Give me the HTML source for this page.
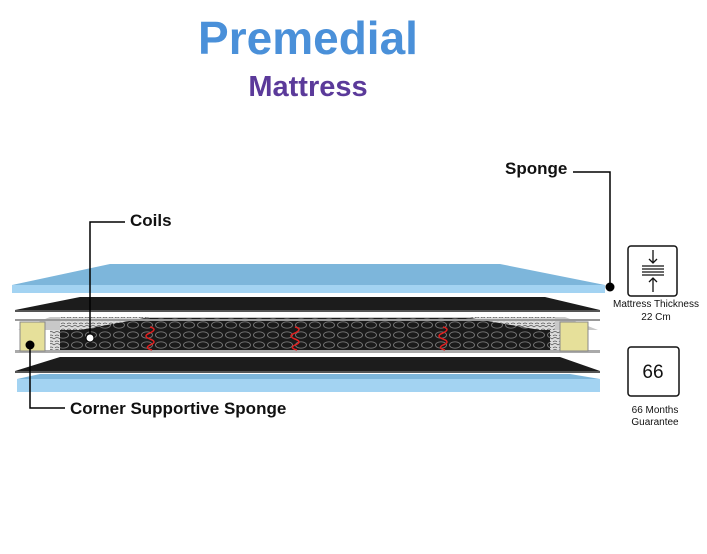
<!DOCTYPE html>
<html><head><style>
body{margin:0;background:#fff;width:707px;height:549px;overflow:hidden;font-family:"Liberation Sans",sans-serif}
</style></head><body>
<svg width="707" height="549" xmlns="http://www.w3.org/2000/svg">
<defs>
<pattern id="coil" width="14" height="10" patternUnits="userSpaceOnUse">
<rect width="14" height="10" fill="#1a1a1a"/>
<ellipse cx="7" cy="5" rx="5.5" ry="3.2" fill="none" stroke="#777" stroke-width="0.9"/>
</pattern>
<pattern id="quilt" width="6" height="6" patternUnits="userSpaceOnUse">
<rect width="6" height="6" fill="#ddd"/>
<path d="M0 3 Q3 0 6 3 M1 6 Q3 4 5 6" stroke="#555" stroke-width="0.8" fill="none"/>
</pattern>
</defs>
<text x="308" y="54" text-anchor="middle" font-size="46" font-weight="bold" fill="#4a90d9">Premedial</text>
<text x="308" y="96" text-anchor="middle" font-size="29" font-weight="bold" fill="#5b3a9a">Mattress</text>

<!-- top blue -->
<polygon points="110,264 500,264 605,285 12,285" fill="#7db6db"/>
<rect x="12" y="285" width="593" height="8" fill="#a3d3f2"/>
<!-- black sheet -->
<polygon points="80,297 545,297 600,310 15,310" fill="#1c1c1c"/>
<rect x="15" y="310" width="585" height="2" fill="#555"/>
<!-- spring core -->
<polygon points="50,317 565,317 598,330 18,330" fill="#c8c8c8"/>
<polygon points="60,317 150,317 60,345" fill="url(#quilt)"/>
<polygon points="470,317 555,317 555,345" fill="url(#quilt)"/>
<polygon points="145,318 470,318 540,330 80,330" fill="url(#coil)"/>
<rect x="55" y="330" width="505" height="22" fill="url(#coil)"/>
<polygon points="50,330 60,330 60,352 50,352" fill="url(#quilt)"/>
<polygon points="550,330 565,330 565,352 550,352" fill="url(#quilt)"/>
<rect x="15" y="350" width="585" height="3" fill="#aaa"/>
<rect x="15" y="319" width="585" height="2" fill="#999"/>
<rect x="20" y="322" width="25" height="29" fill="#e6e09a" stroke="#888" stroke-width="1"/>
<rect x="560" y="322" width="28" height="29" fill="#e6e09a" stroke="#888" stroke-width="1"/>
<path d="M150 327 q8 2 0 6 q-8 3 0 6 q8 3 0 6 q-6 3 2 5 M295 327 q8 2 0 6 q-8 3 0 6 q8 3 0 6 q-6 3 2 5 M443 327 q8 2 0 6 q-8 3 0 6 q8 3 0 6 q-6 3 2 5" stroke="#e02020" stroke-width="1.5" fill="none"/>
<!-- lower black sheet -->
<polygon points="60,357 560,357 600,371 15,371" fill="#1c1c1c"/>
<rect x="15" y="371" width="585" height="2" fill="#555"/>
<!-- bottom blue -->
<polygon points="40,374 570,374 600,379 17,379" fill="#7db6db"/>
<rect x="17" y="379" width="583" height="13" fill="#a3d3f2"/>

<!-- callouts -->
<g stroke="#000" stroke-width="1.5" fill="none">
<polyline points="125,222 90,222 90,338"/>
<polyline points="573,172 610,172 610,287"/>
<polyline points="30,345 30,408 65,408"/>
</g>
<circle cx="90" cy="338" r="4" fill="#fff" stroke="#000"/>
<circle cx="610" cy="287" r="4.5" fill="#000"/>
<circle cx="30" cy="345" r="4.5" fill="#000"/>
<text x="130" y="226" font-size="17" font-weight="bold" fill="#111">Coils</text>
<text x="505" y="174" font-size="17" font-weight="bold" fill="#111">Sponge</text>
<text x="70" y="414" font-size="17" font-weight="bold" fill="#111">Corner Supportive Sponge</text>

<!-- icons -->
<rect x="628" y="246" width="49" height="50" rx="3" fill="#fff" stroke="#111" stroke-width="1.5"/>
<g stroke="#111" stroke-width="1.3">
<line x1="653" y1="250" x2="653" y2="263"/><polyline points="649,259 653,263 657,259" fill="none"/>
<line x1="642" y1="266" x2="664" y2="266"/><line x1="642" y1="269" x2="664" y2="269"/><line x1="642" y1="272" x2="664" y2="272"/><line x1="642" y1="275" x2="664" y2="275"/>
<line x1="653" y1="278" x2="653" y2="292"/><polyline points="649,282 653,278 657,282" fill="none"/>
</g>
<text x="656" y="307" text-anchor="middle" font-size="10" fill="#111">Mattress Thickness</text>
<text x="656" y="320" text-anchor="middle" font-size="10" fill="#111">22 Cm</text>
<rect x="628" y="347" width="51" height="49" rx="3" fill="#fff" stroke="#111" stroke-width="1.5"/>
<text x="653" y="378" text-anchor="middle" font-size="19" fill="#111">66</text>
<text x="655" y="413" text-anchor="middle" font-size="10" fill="#111">66 Months</text>
<text x="655" y="425" text-anchor="middle" font-size="10" fill="#111">Guarantee</text>
</svg>
</body></html>
